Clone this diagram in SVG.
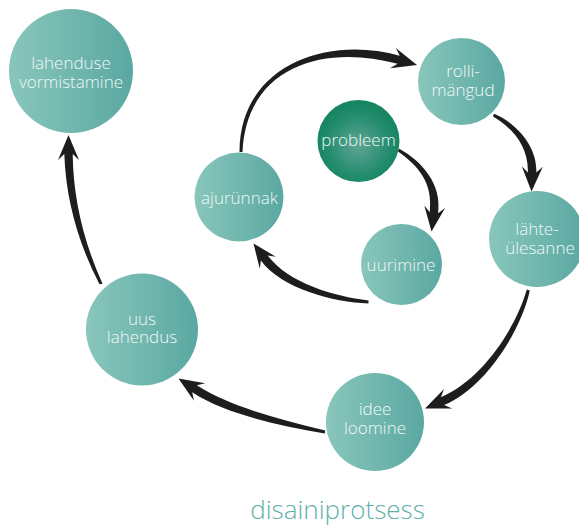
<svg xmlns="http://www.w3.org/2000/svg" width="579" height="527" viewBox="0 0 579 527">
  <defs>
    <linearGradient id="teal" x1="0" y1="0" x2="1" y2="0">
      <stop offset="0" stop-color="#89c6bb"/>
      <stop offset="1" stop-color="#5aa8a2"/>
    </linearGradient>
    <radialGradient id="green" cx="0.5" cy="0.55" r="0.5">
      <stop offset="0" stop-color="#5fa594"/>
      <stop offset="0.75" stop-color="#238c6e"/>
      <stop offset="1" stop-color="#178562"/>
    </radialGradient>
  </defs>
  <style>
    .node circle { fill: url(#teal); }
    #probleem circle { fill: url(#green); }
    .lbl { font-family: "Open Sans", "Liberation Sans", sans-serif; font-weight: 300; font-size: 17px; fill: #f1f8f7; text-anchor: middle; }
    .arrow { fill: #1d1d1f; stroke: none; }
    .title { font-family: "Open Sans", "Liberation Sans", sans-serif; font-weight: 300; font-size: 26px; fill: #5fb0a8; text-anchor: middle; }
  </style>

  <g id="connectors">
    <path class="arrow" d="M102.5,283.7 Q73.4,219.2 72.7,154 L79,160 L68.5,135 L58,160 L64.3,154 Q66.6,220.8 99.5,284.3 Z"/>
    <path class="arrow" d="M242.5,152 C246.5,65 325.3,44 397.6,63.8 L390,68.3 L417,65 L395.8,48.1 L399.8,55.8 C327.7,34.8 239.5,65 239.5,152 Z"/>
    <path class="arrow" d="M492.8,116.3 C508.2,125.7 528.6,142.4 527.9,172.4 L521.8,166.2 L531.5,191.5 L542.8,166.8 L536.3,172.6 C537.6,142.6 510.8,120.3 494.2,113.7 Z"/>
    <path class="arrow" d="M526.8,289.6 C515.8,328.1 482.3,379.6 440.9,397.2 L444,389.1 L425,408.5 L452.1,408.5 L444.1,405 C485.7,387.8 521.6,329.5 529.8,290.4 Z"/>
    <path class="arrow" d="M325.3,430.5 C276.7,418.8 230.6,406.6 196.8,385.3 L205.2,383.2 L178.5,378.5 L193.9,400.8 L192.2,392.3 C225.8,414.2 275.5,424.6 324.7,433.5 Z"/>
    <path class="arrow" d="M397.7,151.3 C418.1,165.8 433.2,182.3 429.7,212.2 L424.3,205.4 L431.5,231.5 L445.1,208 L438.1,213.2 C442.2,183.5 421.3,160.8 399.3,148.7 Z"/>
    <path class="arrow" d="M368.6,300.5 C333.8,296.2 288.8,283.4 267.7,255.5 L275.9,256.8 L253.5,243.5 L259.8,268.8 L260.9,260.5 C281.6,288.8 333.4,302.2 368.4,303.5 Z"/>
  </g>

  <g id="lahenduse-vormistamine" class="node">
    <circle cx="71" cy="71" r="62"/>
    <text class="lbl" x="71" y="69">lahenduse<tspan x="71" dy="19">vormistamine</tspan></text>
  </g>
  <g id="rollimangud" class="node">
    <circle cx="461.5" cy="81.5" r="43.5"/>
    <text class="lbl" x="463" y="77">rolli-<tspan x="463" dy="19">mängud</tspan></text>
  </g>
  <g id="probleem" class="node">
    <circle cx="358.5" cy="141" r="41"/>
    <text class="lbl" x="358.5" y="146">probleem</text>
  </g>
  <g id="ajurynnak" class="node">
    <circle cx="239" cy="197" r="44.5"/>
    <text class="lbl" x="239.5" y="204">ajurünnak</text>
  </g>
  <g id="uurimine" class="node">
    <circle cx="401.5" cy="264.5" r="40.5"/>
    <text class="lbl" x="401" y="271">uurimine</text>
  </g>
  <g id="lahteulesanne" class="node">
    <circle cx="537" cy="239" r="48"/>
    <text class="lbl" x="537" y="235">lähte-<tspan x="540" dy="19">ülesanne</tspan></text>
  </g>
  <g id="uus-lahendus" class="node">
    <circle cx="142" cy="329.5" r="56"/>
    <text class="lbl" x="142" y="325">uus<tspan x="142" dy="18">lahendus</tspan></text>
  </g>
  <g id="idee-loomine" class="node">
    <circle cx="375" cy="422" r="49"/>
    <text class="lbl" x="375" y="415">idee<tspan x="375" dy="19">loomine</tspan></text>
  </g>

  <text class="title" x="337.5" y="519">disainiprotsess</text>
</svg>
